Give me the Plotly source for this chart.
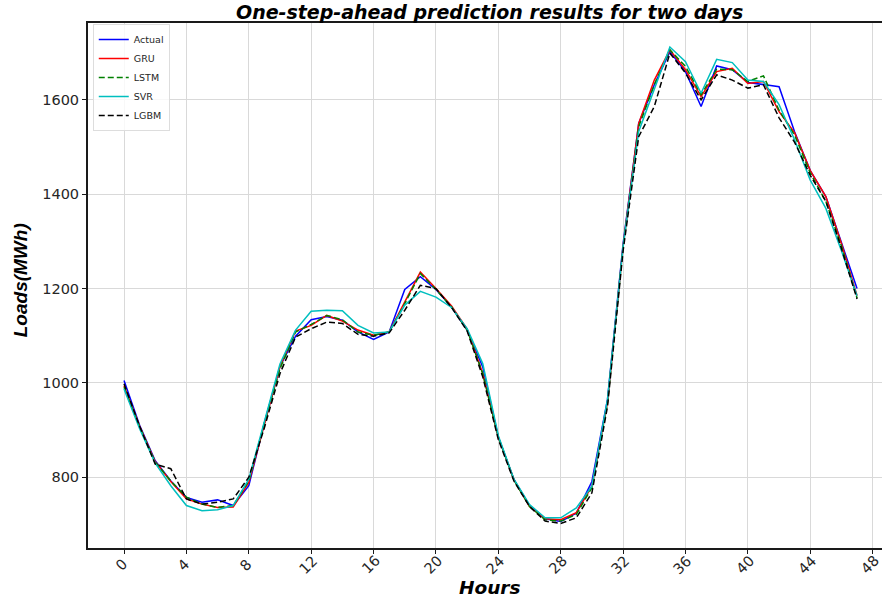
import plotly.graph_objects as go

hours = list(range(48))

actual = [1005, 910, 835, 792, 757, 747, 752, 740, 782, 915, 1035, 1099, 1134, 1141, 1133, 1108, 1092, 1108, 1198, 1225,
          1198, 1161, 1112, 1034, 885, 795, 740, 712, 706, 724, 791, 965, 1295, 1550, 1632, 1702, 1660, 1586, 1672, 1664,
          1637, 1632, 1628, 1532, 1450, 1395, 1296, 1200]
gru = [994, 908, 833, 791, 754, 743, 736, 737, 789, 912, 1035, 1110, 1122, 1143, 1131, 1112, 1101, 1108, 1172, 1235,
       1200, 1163, 1114, 1020, 885, 795, 738, 712, 710, 725, 781, 960, 1290, 1550, 1642, 1706, 1664, 1607, 1660, 1667,
       1635, 1639, 1575, 1530, 1450, 1395, 1295, 1185]
lstm = [991, 907, 832, 792, 758, 743, 736, 740, 792, 915, 1030, 1108, 1124, 1143, 1134, 1108, 1101, 1108, 1168, 1232,
        1198, 1161, 1112, 1020, 885, 794, 738, 710, 707, 721, 778, 958, 1288, 1543, 1632, 1706, 1671, 1611, 1665, 1664,
        1639, 1651, 1578, 1525, 1445, 1385, 1290, 1180]
svr = [987, 903, 830, 782, 740, 729, 731, 740, 796, 918, 1040, 1112, 1152, 1154, 1153, 1122, 1106, 1108, 1165, 1194,
       1182, 1160, 1115, 1041, 888, 796, 742, 714, 714, 735, 781, 965, 1290, 1533, 1621, 1712, 1681, 1614, 1686, 1679,
       1642, 1639, 1590, 1515, 1430, 1370, 1280, 1185]
lgbm = [998, 908, 828, 818, 754, 743, 747, 754, 800, 905, 1020, 1097, 1115, 1129, 1126, 1103, 1099, 1106, 1154, 1207,
        1200, 1160, 1110, 1013, 880, 792, 738, 707, 702, 714, 767, 950, 1280, 1522, 1586, 1699, 1657, 1600, 1653, 1642,
        1625, 1632, 1562, 1510, 1440, 1385, 1285, 1178]

series = [
    ("Actual", actual, "#0000ff", "solid"),
    ("GRU", gru, "#ff0000", "solid"),
    ("LSTM", lstm, "#008000", "6px,3px"),
    ("SVR", svr, "#00bfbf", "solid"),
    ("LGBM", lgbm, "#000000", "6px,3px"),
]

x_ticks = list(range(0, 49, 4))
y_ticks = [800, 1000, 1200, 1400, 1600]

fig = go.Figure()
for name, vals, color, dash in series:
    fig.add_trace(go.Scatter(x=hours, y=vals, mode="lines", name=name,
                             line=dict(color=color, width=1.5, dash=dash)))

tickfont = dict(family="DejaVu Sans", size=14.5, color="#262626")

annotations = [
    dict(text="<b><i>One-step-ahead prediction results for two days</i></b>",
         xref="paper", yref="paper", x=0.506, y=1.0, yshift=11,
         xanchor="center", yanchor="middle", showarrow=False,
         font=dict(family="DejaVu Sans", size=19, color="black")),
    dict(text="<b><i>Hours</i></b>",
         xref="paper", yref="paper", x=0.506, y=0, yshift=-39,
         xanchor="center", yanchor="middle", showarrow=False,
         font=dict(family="DejaVu Sans", size=18.5, color="black")),
    dict(text="<b><i>Loads(MWh)</i></b>",
         xref="paper", yref="paper", x=0, xshift=-68, y=0.51,
         xanchor="center", yanchor="middle", showarrow=False, textangle=-90,
         font=dict(family="Liberation Sans", size=19, color="black")),
]
for t in x_ticks:
    annotations.append(dict(text=str(t), xref="x", yref="paper", x=t, y=0, yshift=-17, xshift=-3,
                            xanchor="center", yanchor="middle", showarrow=False,
                            textangle=-45, font=tickfont))

fig.update_layout(
    width=882, height=599,
    margin=dict(l=88, r=0, t=23, b=51, autoexpand=False),
    paper_bgcolor="white", plot_bgcolor="white",
    showlegend=True,
    legend=dict(x=0.006, y=0.998, xanchor="left", yanchor="top",
                bgcolor="rgba(255,255,255,0.8)", bordercolor="#dddddd", borderwidth=1,
                font=dict(family="DejaVu Sans", size=9.5, color="#262626"),
                tracegroupgap=0, itemwidth=30),
    xaxis=dict(range=[-2.31, 48.6], tickvals=x_ticks, showticklabels=False,
               showgrid=True, gridcolor="#d9d9d9", gridwidth=1,
               showline=True, linecolor="#1a1a1a", linewidth=2, mirror=True,
               ticks="outside", ticklen=4, tickcolor="#1a1a1a",
               zeroline=False, automargin=False),
    yaxis=dict(range=[650, 1763], tickvals=y_ticks,
               showgrid=True, gridcolor="#d9d9d9", gridwidth=1,
               showline=True, linecolor="#1a1a1a", linewidth=2,
               ticks="outside", ticklen=4, tickcolor="#1a1a1a",
               tickfont=tickfont, zeroline=False, automargin=False),
    annotations=annotations,
)

fig.write_html("out.html", config={"displayModeBar": False},
               post_script="document.body.style.margin='0';document.body.style.padding='0';")
